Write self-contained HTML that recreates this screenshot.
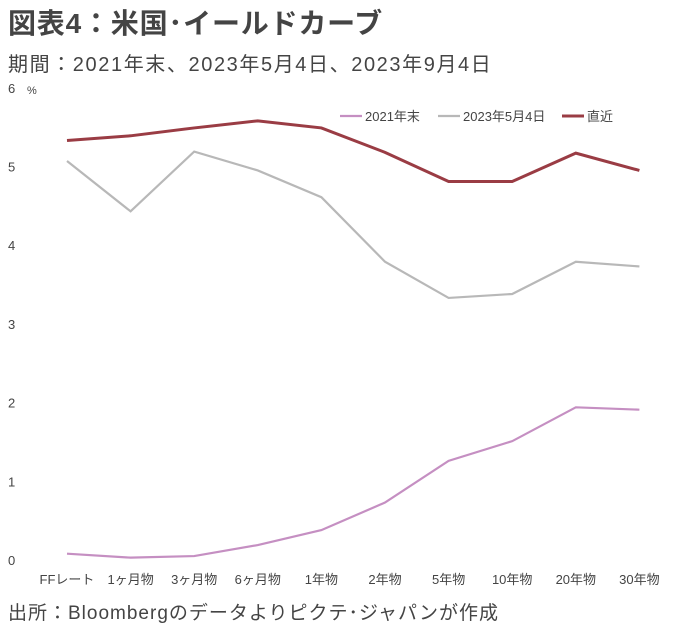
<!DOCTYPE html>
<html><head><meta charset="utf-8"><style>
body{margin:0;background:#fff;font-family:"Liberation Sans","Noto Sans CJK JP",sans-serif;}
#wrap{position:relative;width:675px;height:628px;overflow:hidden;}
.t{position:absolute;white-space:nowrap;color:#333;}
svg text{font-family:"Liberation Sans","Noto Sans CJK JP",sans-serif;}
</style></head><body>
<div id="wrap">
<div class="t" style="left:8px;top:2px;font-size:28px;font-weight:bold;color:#444;letter-spacing:0.8px;">図表4：米国･イールドカーブ</div>
<div class="t" style="left:8px;top:48px;font-size:20px;color:#444;letter-spacing:1.6px;">期間：2021年末、2023年5月4日、2023年9月4日</div>
<div class="t" style="left:8px;top:598px;font-size:19px;color:#444;letter-spacing:1px;">出所：Bloombergのデータよりピクテ･ジャパンが作成</div>
<svg id="chart" width="675" height="628" style="position:absolute;left:0;top:0"></svg>
</div>
<script>
const categories=["FFレート","1ヶ月物","3ヶ月物","6ヶ月物","1年物","2年物","5年物","10年物","20年物","30年物"];
const series2021=[0.08,0.03,0.05,0.19,0.38,0.73,1.26,1.51,1.94,1.91];
const seriesMay=[5.07,4.43,5.19,4.95,4.61,3.79,3.33,3.38,3.79,3.73];
const seriesRecent=[5.33,5.39,5.49,5.58,5.49,5.18,4.81,4.81,5.17,4.95];
const yTicks=[0,1,2,3,4,5,6];
const seriesNames=["2021年末","2023年5月4日","直近"];
const NS="http://www.w3.org/2000/svg";
const svg=document.getElementById('chart');
const x=i=>67+i*63.6;
const y=v=>560-v*78.7;
function el(t,a){const e=document.createElementNS(NS,t);for(const k in a)e.setAttribute(k,a[k]);svg.appendChild(e);return e;}
yTicks.forEach(v=>{const t=el('text',{x:8,y:y(v)+5,'font-size':13,fill:'#444'});t.textContent=v;

});
const pu=el('text',{x:27,y:y(6)+6,'font-size':11,fill:'#444'});pu.textContent='%';


categories.forEach((c,i)=>{const t=el('text',{x:x(i),y:584,'font-size':13,fill:'#444','text-anchor':'middle'});t.textContent=c;

});
const colors=["#c58fc2","#b8b8b8","#9a3c44"];
[series2021,seriesMay,seriesRecent].forEach((s,k)=>{const p=el('polyline',{points:s.map((v,i)=>x(i)+','+y(v)).join(' '),fill:'none',stroke:colors[k],'stroke-width':k==2?3:2.2});

});
const lx=[368,466,590];
seriesNames.forEach((n,k)=>{const l=el('line',{x1:lx[k]-28,x2:lx[k]-6,y1:116,y2:116,stroke:colors[k],'stroke-width':k==2?3:2.2});


const t=el('text',{x:lx[k]-3,y:121,'font-size':13,fill:'#444'});t.textContent=n;

});
</script>
</body></html>
